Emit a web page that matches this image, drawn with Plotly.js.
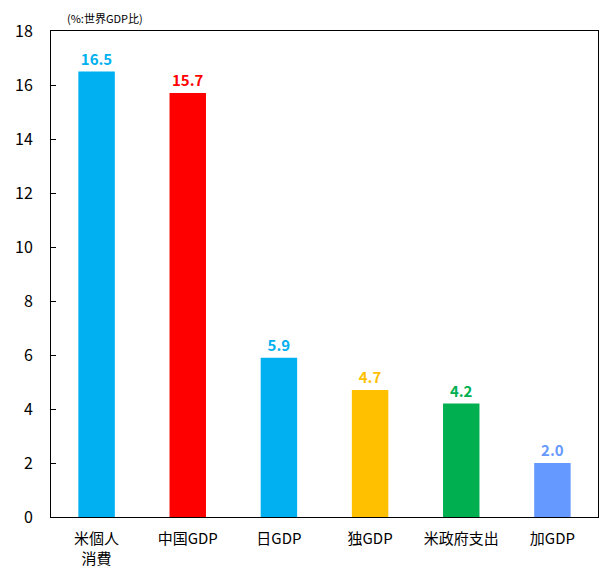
<!DOCTYPE html>
<html>
<head>
<meta charset="utf-8">
<script src="https://cdn.plot.ly/plotly-3.0.1.min.js"></script>
<style>html,body{margin:0;padding:0;background:#fff;}#chart{width:602px;height:568px;}</style>
</head>
<body>
<div id="chart"></div>
<script>
const categories = ["米個人<br>消費", "中国GDP", "日GDP", "独GDP", "米政府支出", "加GDP"];
const values = [16.5, 15.7, 5.9, 4.7, 4.2, 2.0];
const valueLabels = ["16.5", "15.7", "5.9", "4.7", "4.2", "2.0"];
const barColors = ["#00B0F0", "#FF0000", "#00B0F0", "#FFC000", "#00B050", "#6699FF"];
const yTicks = [0, 2, 4, 6, 8, 10, 12, 14, 16, 18];
const unitLabel = "(%:世界GDP比)";

const font = "Noto Sans CJK JP, Noto Sans, sans-serif";

Plotly.newPlot("chart", [{
  type: "bar",
  x: categories,
  y: values,
  text: valueLabels,
  textposition: "outside",
  cliponaxis: false,
  textfont: {family: font, size: 15, color: barColors, weight: "bold"},
  marker: {color: barColors},
  width: 0.4,
  hoverinfo: "none"
}], {
  width: 602, height: 568,
  margin: {l: 51, r: 4, t: 31, b: 51},
  paper_bgcolor: "#fff", plot_bgcolor: "#fff",
  showlegend: false,
  font: {family: font, color: "#000"},
  xaxis: {
    showline: true, linecolor: "#000", linewidth: 1, mirror: true,
    ticks: "", tickfont: {size: 15, family: font, color: "#000"},
    ticklabelstandoff: 8,
    showgrid: false, fixedrange: true
  },
  yaxis: {
    range: [0, 18], tickvals: yTicks,
    showline: true, linecolor: "#000", linewidth: 1, mirror: true,
    ticks: "inside", ticklen: 5, tickcolor: "#000",
    ticklabelstandoff: 14,
    tickfont: {size: 16, family: font, color: "#000"},
    showgrid: false, zeroline: false, fixedrange: true
  },
  annotations: [{
    text: unitLabel, xref: "paper", yref: "paper",
    x: 0.025, y: 1, xanchor: "left", yanchor: "bottom", yshift: 3,
    showarrow: false, font: {size: 11, family: font, color: "#000"}
  }]
}, {displayModeBar: false, staticPlot: true});
</script>
</body>
</html>
